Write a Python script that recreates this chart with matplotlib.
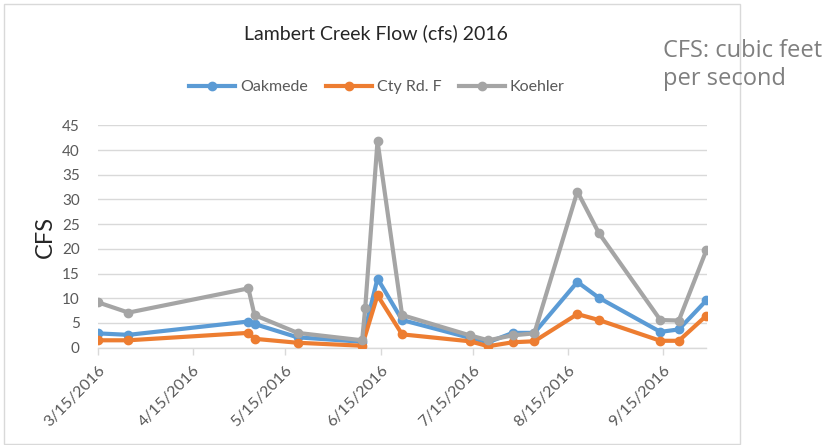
import datetime as dt
import matplotlib
matplotlib.use("Agg")
import matplotlib.pyplot as plt
from matplotlib.patches import Rectangle
import numpy as np

# sampling dates (2016) and flows in cfs at each station
DATES = ["3/15", "3/25", "5/3", "5/5", "5/19", "6/9", "6/10", "6/14", "6/22",
         "7/14", "7/20", "7/28", "8/4", "8/18", "8/25", "9/14", "9/20", "9/29"]
OAKMEDE = [2.9, 2.6, 5.3, 4.8, 2.1, 1.2, None, 14.0, 5.6,
           2.0, 1.1, 3.0, 3.0, 13.3, 10.1, 3.2, 3.7, 9.6]
CTY_RD_F = [1.5, 1.5, 3.0, 1.8, 1.0, 0.4, None, 10.6, 2.7,
            1.3, 0.3, 1.1, 1.3, 6.8, 5.6, 1.4, 1.4, 6.5]
KOEHLER = [9.2, 7.1, 12.0, 6.6, 3.0, 1.5, 8.0, 41.8, 6.6,
           2.5, 1.5, 2.5, 2.9, 31.6, 23.2, 5.6, 5.5, 19.8]
TICK_DATES = ["3/15", "4/15", "5/15", "6/15", "7/15", "8/15", "9/15"]

SERIES = [("Oakmede", OAKMEDE, "#5B9BD5"),
          ("Cty Rd. F", CTY_RD_F, "#ED7D31"),
          ("Koehler", KOEHLER, "#A5A5A5")]

FONT = ["Lato", "DejaVu Sans"]
TXT = "#595959"


def to_date(s):
    m, d = s.split("/")
    return dt.datetime(2016, int(m), int(d))


dates = np.array([to_date(s) for s in DATES])

W, H = 831, 445
fig = plt.figure(figsize=(W / 100, H / 100), dpi=100, facecolor="white")

# chart-area frame
fig.patches.append(Rectangle((4 / W, 1 / H), 736 / W, 440 / H,
                             transform=fig.transFigure, fill=False,
                             edgecolor="#D9D9D9", linewidth=1.0))

ax = fig.add_axes([97.7 / W, (H - 347.7) / H, (706.5 - 97.7) / W, (347.7 - 125.3) / H])

handles = []
for name, vals, col in SERIES:
    v = np.array([np.nan if x is None else x for x in vals], dtype=float)
    ok = ~np.isnan(v)
    h, = ax.plot(dates[ok], v[ok], color=col, lw=3.0, marker="o", ms=6,
                 solid_joinstyle="round", label=name, zorder=3)
    handles.append(h)

ax.set_ylim(0, 45)
ax.set_yticks(range(0, 46, 5))
ax.set_xlim(to_date(DATES[0]), to_date(DATES[-1]))
ticks = [to_date(s) for s in TICK_DATES]
ax.set_xticks(ticks)
ax.set_xticklabels([d.strftime("%-m/%-d/%Y") for d in ticks], rotation=45,
                   ha="right", rotation_mode="anchor", fontsize=11.5,
                   color=TXT, family=FONT)
for lb in ax.get_yticklabels():
    lb.set_fontsize(11)
    lb.set_color(TXT)
    lb.set_family(FONT)

ax.grid(axis="y", color="#D9D9D9", lw=1.0)
ax.set_axisbelow(True)
for s in ("top", "right", "left"):
    ax.spines[s].set_visible(False)
ax.spines["bottom"].set_color("#D9D9D9")
ax.spines["bottom"].set_linewidth(1.0)
ax.tick_params(axis="y", length=0, pad=13)
ax.tick_params(axis="x", length=5, width=1.0, color="#D9D9D9", pad=6)

ax.set_ylabel("CFS", fontsize=17, family=FONT, color="#262626", labelpad=4)

fig.text(376 / W, 1 - 33 / H, "Lambert Creek Flow (cfs) 2016", ha="center",
         va="center", fontsize=14, color="#262626", family=FONT)

fig.legend(handles=handles, loc="center", bbox_to_anchor=(377 / W, 1 - 87 / H),
           ncol=3, frameon=False, prop={"family": FONT, "size": 11.5},
           labelcolor=TXT, handlelength=2.9, columnspacing=1.1,
           handletextpad=0.3)

note_font = ["Open Sans", "DejaVu Sans"]
fig.text(663 / W, 1 - 57 / H, "CFS: cubic feet", ha="left", va="baseline",
         fontsize=17, color="#7F7F7F", family=note_font)
fig.text(663 / W, 1 - 85 / H, "per second", ha="left", va="baseline",
         fontsize=17, color="#7F7F7F", family=note_font)

fig.savefig("out.png", dpi=100, facecolor="white")
